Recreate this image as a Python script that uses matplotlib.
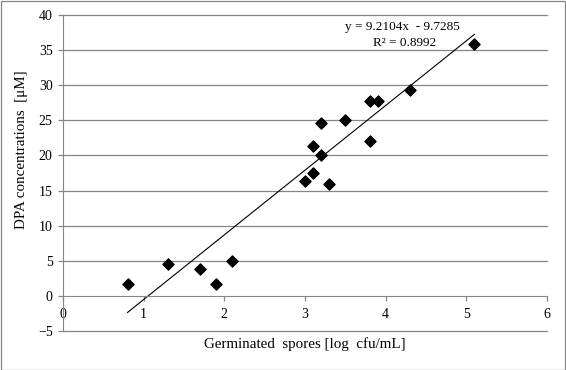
import numpy as np
import matplotlib
matplotlib.use("Agg")
import matplotlib.pyplot as plt
from matplotlib.patches import Rectangle

spores = [0.8, 1.3, 1.7, 1.9, 2.1, 3.0, 3.1, 3.3, 3.2, 3.1, 3.2, 3.5, 3.8, 3.8, 3.9, 4.3, 5.1]
dpa = [1.7, 4.5, 3.8, 1.7, 5.0, 16.4, 17.5, 16.0, 20.0, 21.3, 24.6, 25.0, 22.0, 27.8, 27.8, 29.3, 35.8]
slope = 9.2104
intercept = -9.7285
r2 = 0.8992
x_ticks = [0, 1, 2, 3, 4, 5, 6]
y_ticks = [-5, 0, 5, 10, 15, 20, 25, 30, 35, 40]

plt.rcParams['font.family'] = ['Liberation Serif', 'DejaVu Serif']

W, H = 566, 370
fig = plt.figure(figsize=(W/100, H/100), dpi=100)
ax = fig.add_axes([63/W, 1-331/H, (547-63)/W, (331-15)/H])

ax.set_xlim(0, 6)
ax.set_ylim(-5, 40)
ax.set_yticks(y_ticks)
ax.set_xticks(x_ticks)
grid_c = '#868686'
for yv in y_ticks:
    if yv != 0:
        ax.axhline(yv, color=grid_c, linewidth=0.9, clip_on=False, zorder=0)

for s in ['top', 'right']:
    ax.spines[s].set_visible(False)
ax.spines['left'].set_color(grid_c)
ax.spines['bottom'].set_position(('data', 0))
ax.spines['bottom'].set_color(grid_c)
ax.tick_params(axis='both', colors=grid_c, labelcolor='black', labelsize=10, length=3.5, width=0.9)
ax.tick_params(axis='x', pad=5)
ax.tick_params(axis='y', pad=4)

xfit = np.array([min(spores), max(spores)])
ax.plot(xfit, slope*xfit + intercept, color='black', linewidth=0.8, zorder=2)
ax.scatter(spores, dpa, marker='D', s=32, color='black', zorder=3)

fig.text(402/W, 1-27/H, f"y = {slope:.4f}x  - {abs(intercept):.4f}", fontsize=9.5,
         ha='center', va='center')
fig.text(405/W, 1-43/H, f"R² = {r2:.4f}", fontsize=9.5, ha='center', va='center')

fig.text(305/W, 1-344/H, "Germinated  spores [log  cfu/mL]", ha='center', va='center', fontsize=10.8)
fig.text(22/W, 1-150/H, "DPA concentrations  [μM]", ha='center', va='center', fontsize=10.8, rotation=90)

fig.patches.append(Rectangle((0.5/W, 0.5/H), 1-1.5/W, 1-1.5/H, transform=fig.transFigure,
                             fill=False, edgecolor=grid_c, linewidth=0.9))

fig.savefig("out.png", dpi=100)
